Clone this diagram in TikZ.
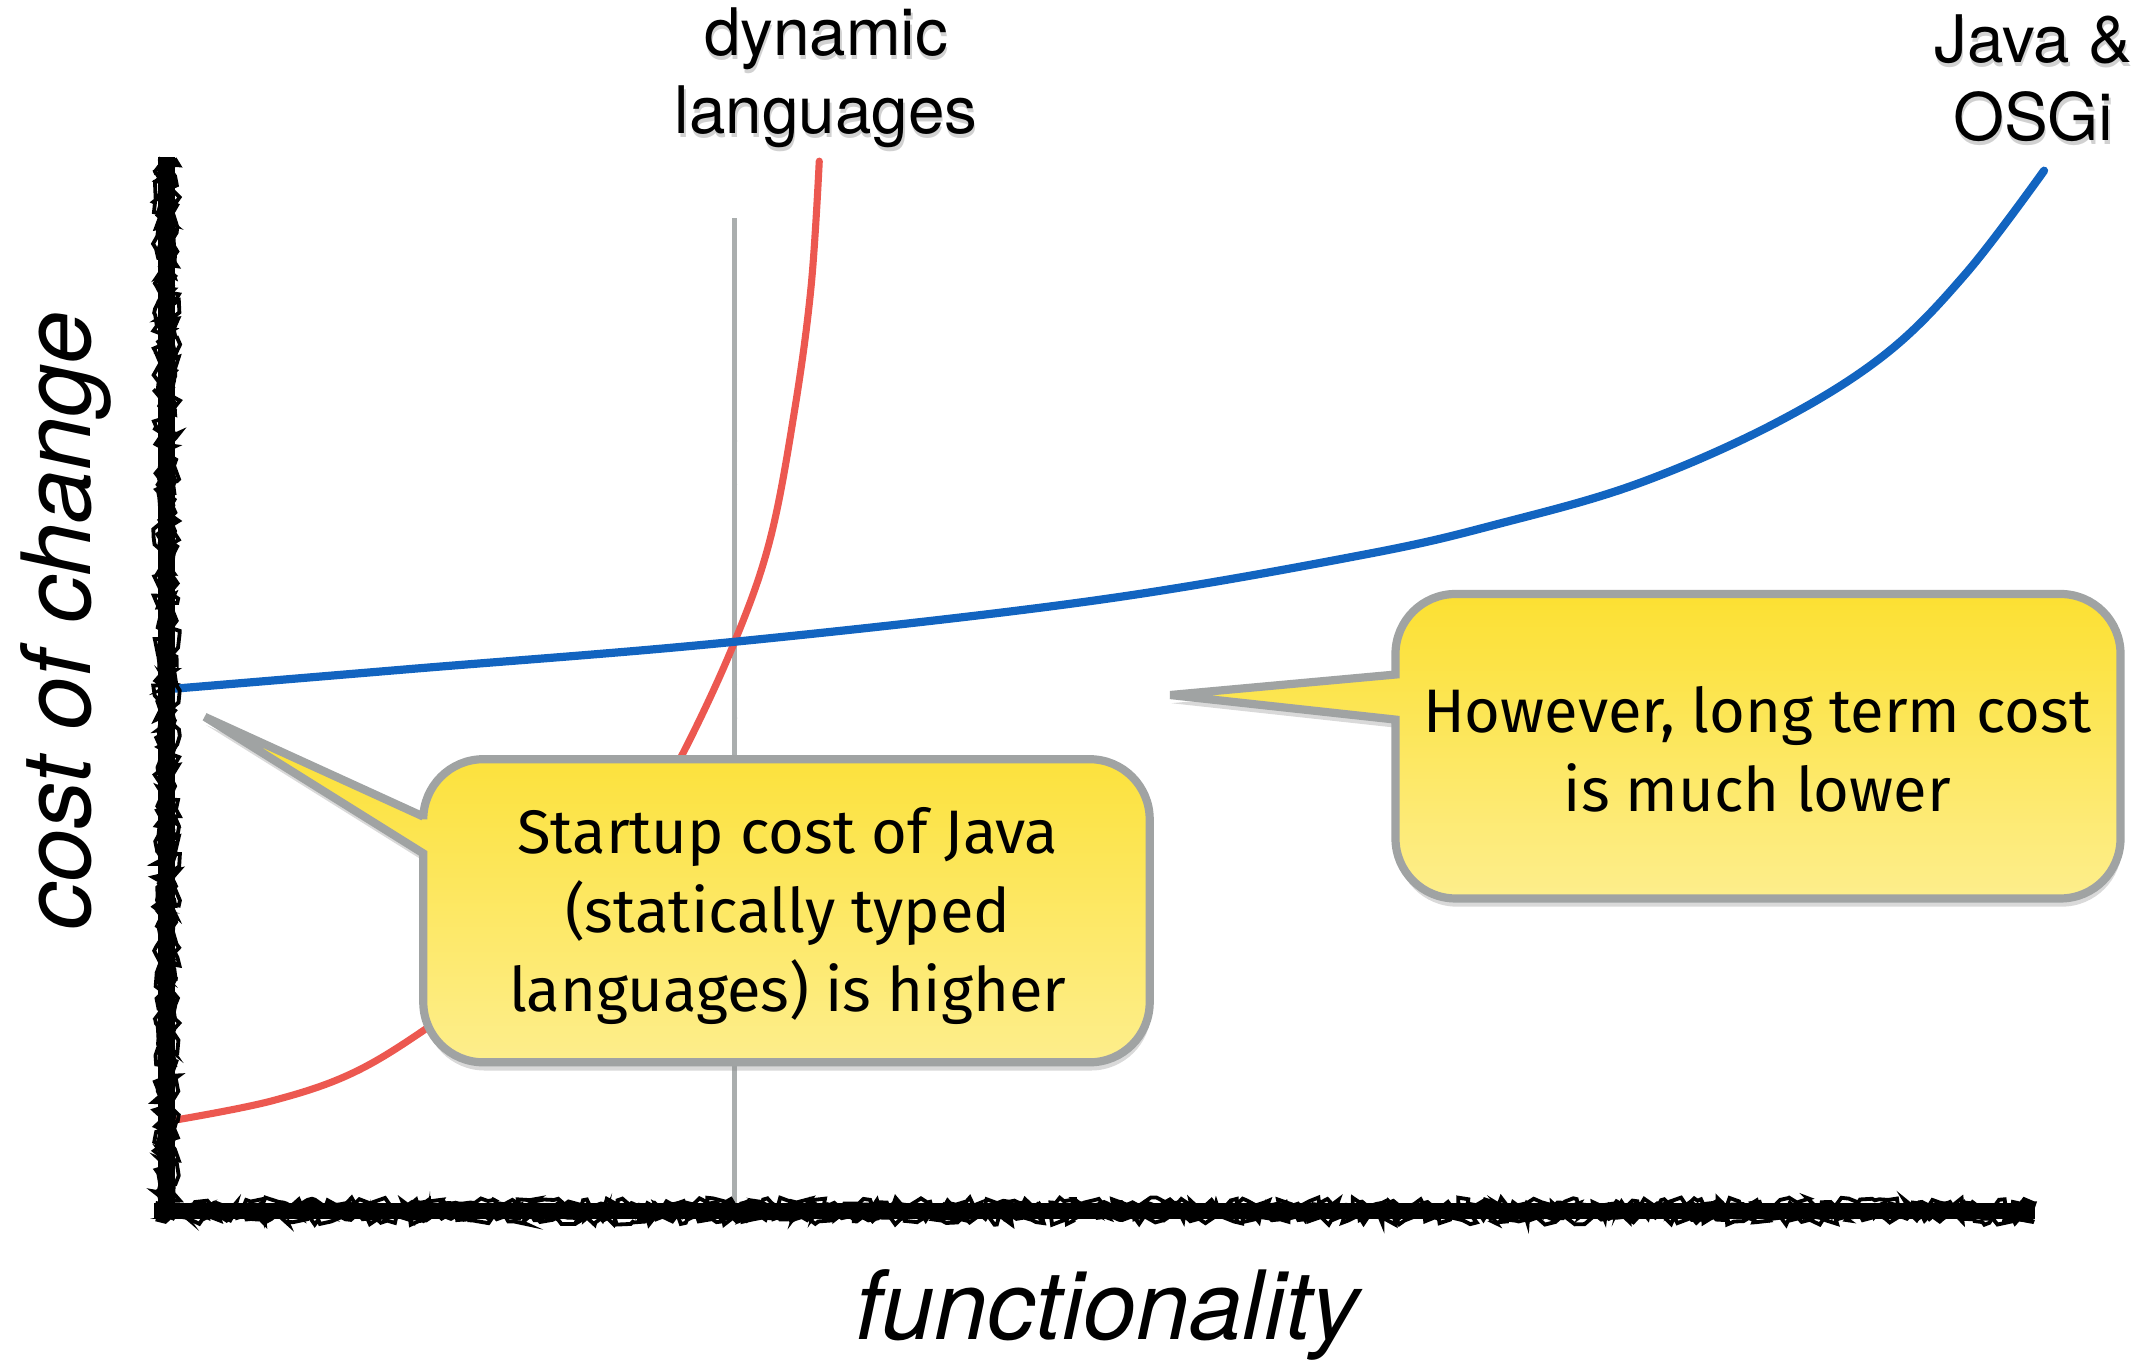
\documentclass[tikz,border=0pt]{standalone}
\usepackage{fontspec}
\setmainfont{TeX Gyre Heros}
\newfontfamily\calloutfont{Fira Sans}
\usetikzlibrary{shadows,decorations.pathmorphing}
\definecolor{cRed}{RGB}{236,88,80}
\definecolor{cBlue}{RGB}{18,100,192}
\definecolor{cGrayLine}{RGB}{170,174,174}
\definecolor{cBorder}{RGB}{160,163,163}
\definecolor{cYTop}{RGB}{252,224,50}
\definecolor{cYBot}{RGB}{253,238,140}
\begin{document}
\begin{tikzpicture}[x=0.5pt,y=-0.5pt,
  toplabel/.style={font=\fontsize{24}{28.5}\selectfont, align=center, inner sep=0},
  shadowtext/.style={text=black!30, opacity=0.6},
  axislabel/.style={font=\fontsize{35}{40}\selectfont\itshape, inner sep=0},
  calltext/.style={font=\calloutfont\fontsize{22.5}{29}\selectfont, align=center, inner sep=0},
  callout/.style={draw=cBorder, line width=3pt, top color=cYTop, bottom color=cYBot,
    drop shadow={opacity=0.3, shadow xshift=0.5pt, shadow yshift=-3pt}},
  axismain/.style={black, line width=6pt},
  rough/.style={black, line width=1.4pt, decorate, decoration={random steps, segment length=2pt, amplitude=2pt}},
  refline/.style={cGrayLine, line width=1.6pt},
  refrough/.style={cGrayLine, line width=0.6pt, decorate, decoration={random steps, segment length=1.5pt, amplitude=0.6pt}},
  redcurve/.style={cRed, line width=2.6pt, line cap=round},
  bluecurve/.style={cBlue, line width=3pt, line cap=round}
]
\pgfmathsetseed{4}
\useasboundingbox (0,0) rectangle (1568,1002);

% reference line
\coordinate (gtop) at (538,160);
\coordinate (gbot) at (538,886);
\draw[refline] (gtop) -- (gbot);
\draw[refrough] (gtop) -- (gbot);

% curves
\draw[redcurve] plot[smooth, tension=0.6] coordinates {(130,820) (200,806) (260,785) (320,748) (400,690) (460,622) (500,552) (538,470) (564,395) (582,300) (594,210) (600,118)};
\draw[bluecurve] plot[smooth, tension=0.6] coordinates {(120,505) (300,490) (538,470) (800,440) (1000,406) (1100,383) (1200,354) (1300,310) (1380,260) (1440,200) (1497,125)};

% axes
\coordinate (ytop) at (122,115);
\coordinate (orig) at (122,893);
\coordinate (xstart) at (113,887);
\coordinate (xend) at (1490,887);
\draw[axismain] (ytop) -- (orig);
\draw[axismain] (xstart) -- (xend);
\foreach \d in {-6,-3,0,3,6} {
  \draw[rough] ({122+\d},116) -- ({122+\d},893);
  \draw[rough] (114,{887+\d}) -- (1489,{887+\d});
}

% top labels
\node[toplabel, shadowtext] (dynS) at (606,60) {dynamic\\languages};
\node[toplabel] (dyn) at (605,57) {dynamic\\languages};
\node[toplabel, shadowtext] (javaS) at (1490,60) {Java \&\\OSGi};
\node[toplabel] (java) at (1489,57) {Java \&\\OSGi};

% axis labels
\node[axislabel, rotate=90] (ylab) at (48,455) {cost of change};
\node[axislabel] (xlab) at (811,963) {functionality};

% callout 1
\coordinate (tip1) at (150,525);
\path[callout] (tip1) -- (310,625) [rounded corners=22pt] -- (310,778) -- (842,778) -- (842,556) -- (310,556) [sharp corners] -- (310,598) -- cycle;
\node[calltext] (c1) at (577,671) {Startup cost of Java\\(statically typed\\languages) is higher};

% callout 2
\coordinate (tip2) at (857,509);
\path[callout] (tip2) -- (1022,527) [rounded corners=22pt] -- (1022,658) -- (1553,658) -- (1553,435) -- (1022,435) [sharp corners] -- (1022,494) -- cycle;
\node[calltext] (c2) at (1287,549) {However, long term cost\\is much lower};
\end{tikzpicture}
\end{document}
